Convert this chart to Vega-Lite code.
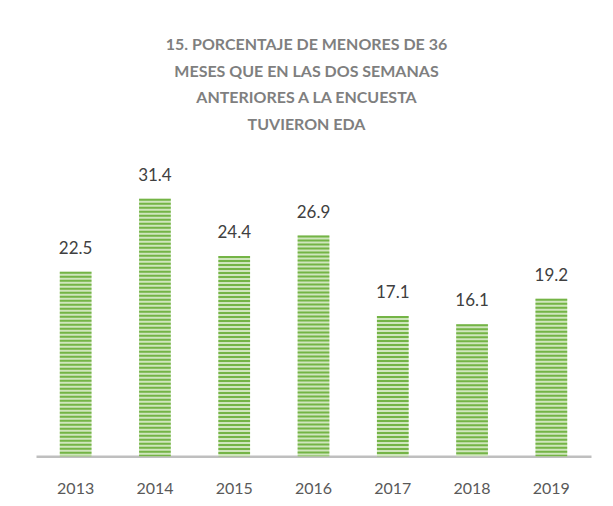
{
  "$schema": "https://vega.github.io/schema/vega-lite/v6.json",
  "width": 555,
  "height": 295.2,
  "autosize": "none",
  "padding": {"left": 36, "top": 161, "right": 22, "bottom": 50},
  "background": "white",
  "title": {
    "text": ["15. PORCENTAJE DE MENORES DE 36", "MESES QUE EN LAS DOS SEMANAS", "ANTERIORES A LA ENCUESTA", "TUVIERON EDA"],
    "font": "Lato",
    "fontSize": 16,
    "fontWeight": "bold",
    "color": "#7f7f7f",
    "lineHeight": 26.5,
    "anchor": "middle",
    "offset": 28,
    "dx": -7
  },
  "data": {
    "values": [
      {"year": 2013, "value": 22.5},
      {"year": 2014, "value": 31.4},
      {"year": 2015, "value": 24.4},
      {"year": 2016, "value": 26.9},
      {"year": 2017, "value": 17.1},
      {"year": 2018, "value": 16.1},
      {"year": 2019, "value": 19.2}
    ]
  },
  "encoding": {
    "x": {
      "field": "year",
      "type": "ordinal",
      "scale": {"paddingInner": 0.6, "paddingOuter": 0.3},
      "axis": {
        "title": null,
        "labelAngle": 0,
        "domainColor": "#bfbfbf",
        "domainWidth": 2.5,
        "ticks": false,
        "grid": false,
        "labelFont": "Lato",
        "labelFontSize": 16,
        "labelColor": "#595959",
        "labelPadding": 24
      }
    }
  },
  "layer": [
    {
      "mark": {"type": "bar", "color": "#cfe6bd"},
      "encoding": {
        "y": {"field": "value", "type": "quantitative", "scale": {"domain": [0, 36], "nice": false, "zero": true}, "axis": null}
      }
    },
    {
      "mark": {"type": "rule", "color": "#74b446", "strokeWidth": 31.7, "strokeDash": [2, 2]},
      "encoding": {
        "y": {"field": "value", "type": "quantitative"},
        "y2": {"datum": 0}
      }
    },
    {
      "mark": {"type": "text", "font": "Lato", "fontSize": 17, "color": "#404040", "baseline": "bottom", "dy": -14},
      "encoding": {
        "y": {"field": "value", "type": "quantitative"},
        "text": {"field": "value", "type": "quantitative", "format": ".1f"}
      }
    }
  ],
  "config": {"view": {"stroke": null}}
}
